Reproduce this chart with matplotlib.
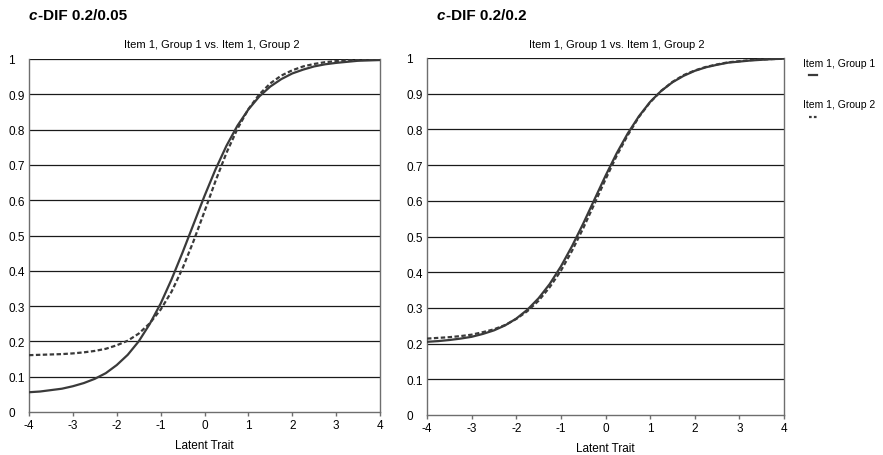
import matplotlib
matplotlib.use("Agg")
import matplotlib.pyplot as plt
from matplotlib.lines import Line2D

# latent trait grid (read every 0.25)
theta = [-4, -3.75, -3.5, -3.25, -3, -2.75, -2.5, -2.25, -2, -1.75, -1.5, -1.25, -1,
         -0.75, -0.5, -0.25, 0, 0.25, 0.5, 0.75, 1, 1.25, 1.5, 1.75, 2, 2.25, 2.5,
         2.75, 3, 3.25, 3.5, 3.75, 4]

# panel 1: c-DIF 0.2/0.05
p1_group1 = [0.056, 0.058, 0.062, 0.066, 0.073, 0.082, 0.094, 0.110, 0.133, 0.162, 0.200,
             0.249, 0.307, 0.376, 0.452, 0.532, 0.612, 0.687, 0.754, 0.811, 0.857, 0.894,
             0.922, 0.943, 0.959, 0.970, 0.979, 0.985, 0.989, 0.992, 0.995, 0.996, 0.997]
p1_group2 = [0.161, 0.162, 0.163, 0.164, 0.166, 0.169, 0.173, 0.179, 0.189, 0.202, 0.222,
             0.251, 0.290, 0.341, 0.407, 0.484, 0.568, 0.654, 0.734, 0.802, 0.858, 0.900,
             0.931, 0.953, 0.968, 0.979, 0.986, 0.991, 0.994, 0.996, 0.997, 0.998, 0.999]

# panel 2: c-DIF 0.2/0.2
p2_group1 = [0.205, 0.207, 0.210, 0.214, 0.219, 0.227, 0.237, 0.251, 0.270, 0.295, 0.327,
             0.367, 0.416, 0.473, 0.536, 0.603, 0.670, 0.733, 0.789, 0.837, 0.877, 0.908,
             0.932, 0.950, 0.964, 0.974, 0.981, 0.987, 0.990, 0.993, 0.995, 0.997, 0.998]
p2_group2 = [0.214, 0.216, 0.218, 0.221, 0.225, 0.232, 0.240, 0.252, 0.269, 0.291, 0.320,
             0.358, 0.404, 0.460, 0.523, 0.591, 0.660, 0.726, 0.784, 0.835, 0.876, 0.908,
             0.933, 0.952, 0.965, 0.975, 0.982, 0.988, 0.991, 0.994, 0.996, 0.997, 0.998]

titles = ["-DIF 0.2/0.05", "-DIF 0.2/0.2"]
subtitle = "Item 1, Group 1 vs. Item 1, Group 2"
series_names = ["Item 1, Group 1", "Item 1, Group 2"]
xticks = [-4, -3, -2, -1, 0, 1, 2, 3, 4]
yticks = [0, 0.1, 0.2, 0.3, 0.4, 0.5, 0.6, 0.7, 0.8, 0.9, 1]
ytick_labels = ["0", "0.1", "0.2", "0.3", "0.4", "0.5", "0.6", "0.7", "0.8", "0.9", "1"]

plt.rcParams["font.family"] = ["Liberation Sans", "DejaVu Sans"]
plt.rcParams["axes.unicode_minus"] = False

W, H = 883, 456
fig = plt.figure(figsize=(W / 100, H / 100), dpi=100)

boxes = [(29, 60, 380, 413), (427, 59, 784, 416)]
data = [(p1_group1, p1_group2), (p2_group1, p2_group2)]
title_x = [29, 437]
sub_x = [212, 617]

curve_col = "#3a3a3a"
spine_col = "#6e6e6e"
dash = (0, (2.0, 1.1))

for k in range(2):
    x0, y0, x1, y1 = boxes[k]
    ax = fig.add_axes([x0 / W, 1 - y1 / H, (x1 - x0) / W, (y1 - y0) / H])
    g1, g2 = data[k]
    ax.plot(theta, g1, color=curve_col, lw=1.6, zorder=3)
    ax.plot(theta, g2, color=curve_col, lw=1.6, ls=dash, zorder=3)
    ax.set_xlim(-4, 4)
    ax.set_ylim(0, 1)
    ax.set_xticks(xticks)
    ax.set_yticks(yticks)
    ax.set_yticklabels(ytick_labels)
    for yv in yticks[1:]:
        ax.axhline(yv, color="#1a1a1a", lw=0.9, zorder=1)
    for s in ax.spines.values():
        s.set_color(spine_col)
        s.set_linewidth(1.0)
    ax.spines["top"].set_visible(False)
    ax.tick_params(axis="x", direction="out", length=3, width=1, color=spine_col,
                   labelsize=8.5, pad=2)
    ax.tick_params(axis="y", length=0, labelsize=8.5, pad=15)
    for lab in ax.get_yticklabels():
        lab.set_horizontalalignment("left")
    ax.set_xlabel("Latent Trait", fontsize=8.5, labelpad=6)

    # title: italic c followed by bold text
    t1 = fig.text(title_x[k] / W, 1 - 20 / H, "c", fontsize=11, fontweight="bold",
                  style="italic", va="baseline", ha="left")
    fig.canvas.draw()
    bb = t1.get_window_extent()
    fig.text(bb.x1 / W, 1 - 20 / H, titles[k], fontsize=11, fontweight="bold",
             va="baseline", ha="left")

    fig.text(sub_x[k] / W, 1 - 48 / H, subtitle, fontsize=8,
             ha="center", va="baseline")

# legend
fig.text(803 / W, 1 - 67 / H, series_names[0], fontsize=7.5, va="baseline")
fig.lines.append(Line2D([809 / W, 817 / W], [1 - 76 / H, 1 - 76 / H],
                        transform=fig.transFigure, color=curve_col, lw=1.6))
fig.text(803 / W, 1 - 108 / H, series_names[1], fontsize=7.5, va="baseline")
fig.lines.append(Line2D([809 / W, 817 / W], [1 - 118 / H, 1 - 118 / H],
                        transform=fig.transFigure, color=curve_col, lw=1.6,
                        ls=(0, (1.2, 1.0))))

fig.savefig("out.png", dpi=100)
